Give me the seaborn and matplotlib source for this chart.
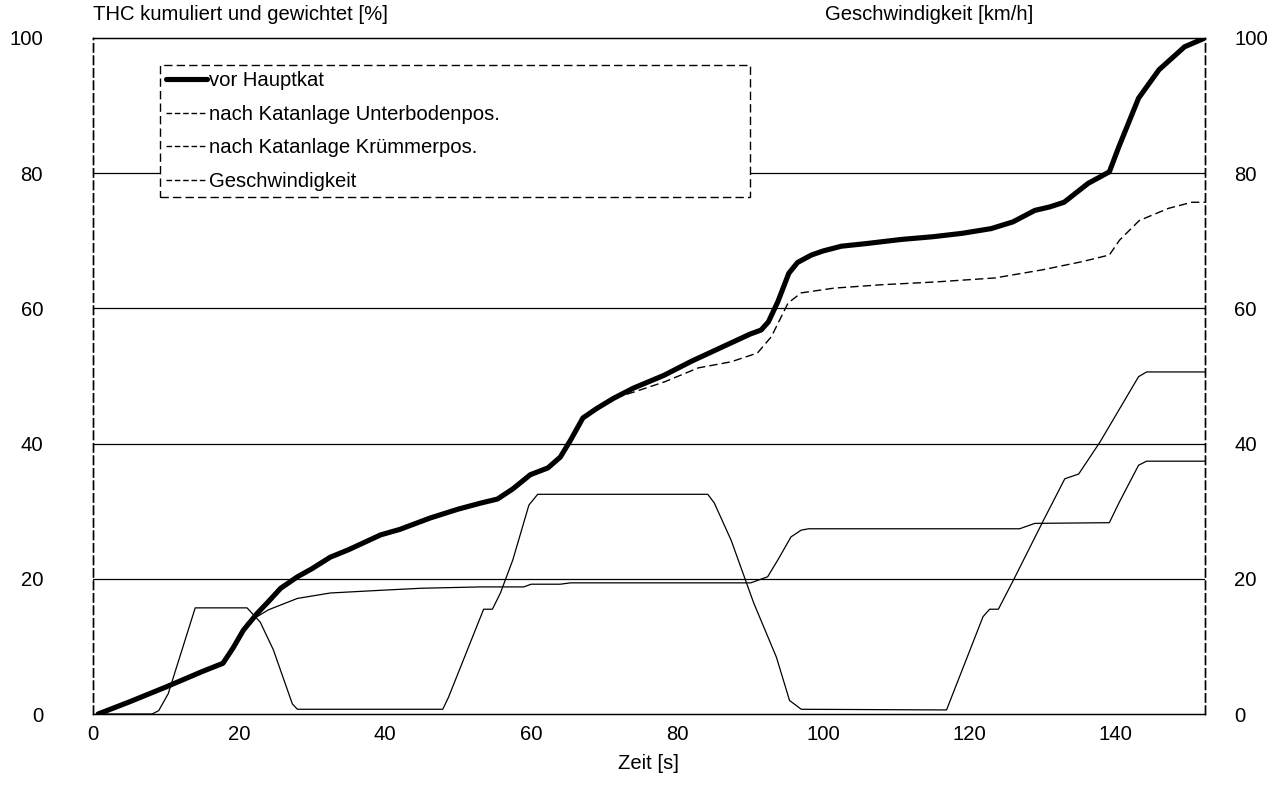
import matplotlib
matplotlib.use("Agg")
import matplotlib.pyplot as plt
import seaborn as sns
import pandas as pd
from matplotlib.lines import Line2D

# ---- data ----
t_vor = [0.7, 5, 10, 15, 17.8, 19.2, 20.6, 22.5, 24, 25.7, 28, 30, 32.5, 35, 39.4, 42, 46.2,
         50, 53.1, 55.4, 57.5, 59.9, 62.3, 64, 65.4, 67.1, 69, 71.3, 74, 78.2, 82, 85, 87.4,
         90, 91.5, 92.5, 93.8, 95.3, 96.5, 98.4, 100, 102.5, 106, 110.7, 115, 119, 123, 126,
         129, 131, 133, 136.3, 139.2, 140.5, 143.2, 146, 149.5, 152.3]
y_vor = [0, 1.8, 4.0, 6.3, 7.5, 9.8, 12.4, 14.9, 16.6, 18.6, 20.3, 21.5, 23.2, 24.3, 26.5, 27.3, 29,
         30.3, 31.2, 31.8, 33.3, 35.4, 36.4, 38, 40.5, 43.8, 45.2, 46.7, 48.2, 50.1, 52.2, 53.7, 54.9,
         56.2, 56.8, 58, 61, 65.2, 66.8, 67.9, 68.5, 69.2, 69.6, 70.2, 70.6, 71.1, 71.8, 72.8,
         74.5, 75.0, 75.7, 78.5, 80.2, 83.9, 91.1, 95.3, 98.7, 100]

t_unter = [0.7, 5, 10, 15, 17.8, 19.2, 20.6, 22.5, 24, 25.7, 28, 30, 32.5, 35, 39.4, 42, 46.2,
           50, 53.1, 55.4, 57.5, 59.9, 62.3, 64, 65.4, 67.1, 69, 71.3, 74, 78.2, 82.9, 87.4, 91,
           92.9, 95.2, 97, 101.5, 108, 115.2, 123.5, 130, 135.4, 139.2, 140.6, 143.3, 147.3,
           150.5, 152.3]
y_unter = [0, 1.8, 4.0, 6.3, 7.5, 9.8, 12.4, 14.9, 16.6, 18.6, 20.3, 21.5, 23.2, 24.3, 26.5, 27.3, 29,
           30.3, 31.2, 31.8, 33.3, 35.4, 36.4, 38, 40.5, 43.8, 45.2, 46.7, 47.6, 49.1, 51.2, 52.1, 53.4,
           55.8, 60.8, 62.3, 63.0, 63.5, 63.9, 64.5, 65.7, 66.9, 67.9, 70.1, 73.0, 74.8,
           75.7, 75.7]

t_kruemmer = [0.7, 5, 10, 15, 17.8, 19.2, 20.6, 21.1, 24, 28, 32.5, 39.4, 44.9, 53.1, 59, 60, 64,
              65.4, 90.1, 92.4, 93.8, 95.6, 97, 98, 126.9, 129, 139.2, 140.5, 143.2, 144.3, 152.3]
y_kruemmer = [0, 1.8, 4.0, 6.3, 7.5, 9.8, 12.4, 13.5, 15.4, 17.1, 17.9, 18.3, 18.6, 18.8, 18.8, 19.2, 19.2,
              19.4, 19.4, 20.3, 22.8, 26.2, 27.2, 27.4, 27.4, 28.2, 28.3, 31.2, 36.8, 37.4, 37.4]

t_speed = [0.7, 8.1, 9, 10.3, 14, 21.1, 22.9, 24.7, 27.3, 28, 47.9, 48.7, 53.5, 54.7, 55.8, 57.5,
           59.7, 60.9, 84.2, 85.1, 87.4, 90.5, 93.6, 95.4, 97, 116.9, 121.9, 122.8, 124, 126.2,
           130.2, 133.1, 135, 137.9, 143.2, 144.3, 152.3]
y_speed = [0, 0, 0.5, 3, 15.7, 15.7, 13.6, 9.5, 1.5, 0.7, 0.7, 2.5, 15.5, 15.5, 17.9, 22.8,
           30.9, 32.5, 32.5, 31.2, 25.7, 16.4, 8.4, 2, 0.7, 0.6, 14.4, 15.5, 15.5, 20.1,
           28.7, 34.8, 35.5, 40.2, 49.9, 50.6, 50.6]

labels = ["vor Hauptkat", "nach Katanlage Unterbodenpos.", "nach Katanlage Krümmerpos.", "Geschwindigkeit"]
x_ticks = [0, 20, 40, 60, 80, 100, 120, 140]
y_ticks = [0, 20, 40, 60, 80, 100]

# ---- plot ----
FS = 14.6
sns.set_theme(style="white")
plt.rcParams['font.family'] = ['Liberation Sans', 'DejaVu Sans']
plt.rcParams['text.color'] = 'black'

fig = plt.figure(figsize=(12.76, 7.87), dpi=100)
ax = fig.add_axes([93/1276, 73/787, 1112/1276, 676/787])
ax2 = ax.twinx()

df_vor = pd.DataFrame({"t": t_vor, "v": y_vor})
df_unter = pd.DataFrame({"t": t_unter, "v": y_unter})
df_kr = pd.DataFrame({"t": t_kruemmer, "v": y_kruemmer})
df_sp = pd.DataFrame({"t": t_speed, "v": y_speed})

for yv in [20, 40, 60, 80]:
    ax.axhline(yv, color="black", lw=0.9, zorder=1)

sns.lineplot(data=df_unter, x="t", y="v", ax=ax, color="black", lw=1.0,
             linestyle=(0, (6, 3)), zorder=3)
sns.lineplot(data=df_kr, x="t", y="v", ax=ax, color="black", lw=0.9, zorder=3)
sns.lineplot(data=df_vor, x="t", y="v", ax=ax, color="black", lw=3.7, zorder=4)
sns.lineplot(data=df_sp, x="t", y="v", ax=ax2, color="black", lw=0.9, zorder=3)

for a in (ax, ax2):
    a.set_xlim(0, 152.3)
    a.set_ylim(0, 100)
    a.set_yticks(y_ticks)
    a.set_xlabel("")
    a.set_ylabel("")
    a.tick_params(length=0, labelsize=FS, colors="black")

ax.set_xticks(x_ticks)
ax.tick_params(axis="y", pad=36)
ax.tick_params(axis="x", pad=8)
ax2.tick_params(axis="y", pad=21)
ax.set_xlabel("Zeit [s]", fontsize=FS, color="black", labelpad=7)

for a in (ax, ax2):
    for s in ["left", "right"]:
        a.spines[s].set_linestyle((0, (6, 3)))
        a.spines[s].set_color("black")
        a.spines[s].set_linewidth(1.0)
    for s in ["top", "bottom"]:
        a.spines[s].set_color("black")
        a.spines[s].set_linewidth(0.9)

fig.text(93/1276, 1 - 14/787, "THC kumuliert und gewichtet [%]", fontsize=FS,
         ha="left", va="center", color="black")
fig.text(825/1276, 1 - 14/787, "Geschwindigkeit [km/h]", fontsize=FS,
         ha="left", va="center", color="black")

handles = [Line2D([], [], color="black", lw=3.7),
           Line2D([], [], color="black", lw=1.0, linestyle=(0, (4, 2))),
           Line2D([], [], color="black", lw=1.0, linestyle=(0, (4, 2))),
           Line2D([], [], color="black", lw=1.0, linestyle=(0, (4, 2)))]
leg = ax2.legend(handles, labels, loc="upper left",
                 bbox_to_anchor=(67/1112, (714-65)/676, 590/1112, 0.0), mode="expand",
                 fontsize=FS, frameon=True, fancybox=False, handlelength=2.0,
                 handletextpad=0.1, labelspacing=0.72, borderpad=0.3, borderaxespad=0,
                 labelcolor="black")
fr = leg.get_frame()
fr.set_edgecolor("black")
fr.set_linestyle((0, (6, 3)))
fr.set_linewidth(1.0)
fr.set_facecolor("white")
fr.set_alpha(1)
leg.set_zorder(10)

fig.savefig("out.png", dpi=100, facecolor="white")
